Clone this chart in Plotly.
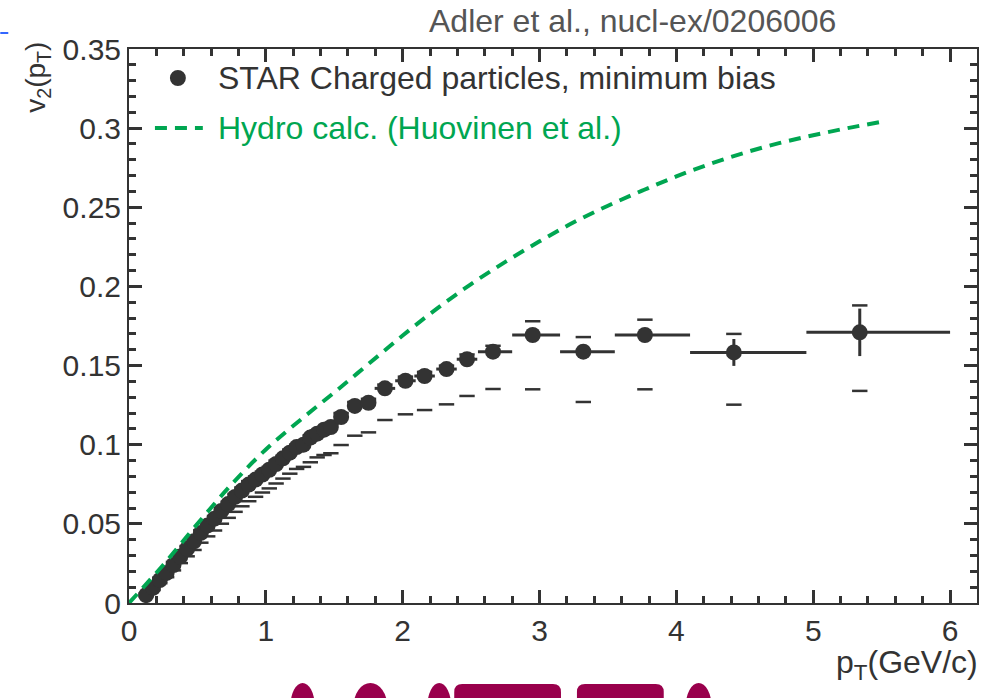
import plotly.graph_objects as go

# ---------------- data ----------------
pt = [0.125, 0.175, 0.225, 0.275, 0.325, 0.375, 0.425, 0.475, 0.525, 0.575,
      0.625, 0.675, 0.725, 0.775, 0.825, 0.875, 0.925, 0.975, 1.025, 1.075,
      1.125, 1.175, 1.225, 1.275, 1.325, 1.375, 1.425, 1.475, 1.55, 1.65,
      1.75, 1.87, 2.02, 2.16, 2.32, 2.47, 2.66, 2.95, 3.32, 3.77, 4.42, 5.34]
v2 = [0.005, 0.0095, 0.0145, 0.019, 0.024, 0.0293, 0.0343, 0.039, 0.0443, 0.049,
      0.0533, 0.0582, 0.0625, 0.067, 0.071, 0.0748, 0.078, 0.0812, 0.0842, 0.0878,
      0.0914, 0.095, 0.0985, 0.1, 0.1045, 0.107, 0.1095, 0.1112, 0.1175, 0.1245,
      0.1265, 0.1356, 0.1404, 0.1434, 0.1478, 0.154, 0.1588, 0.1693, 0.1588, 0.1693,
      0.1583, 0.171]
stat_err = [0.0005] * 31 + [0.001, 0.001, 0.001, 0.001, 0.001, 0.0015, 0.002,
                            0.003, 0.0045, 0.0085, 0.015]
pt_err_minus = [0.025] * 28 + [0.05, 0.05, 0.05, 0.075, 0.075, 0.075, 0.075, 0.075,
                               0.11, 0.15, 0.17, 0.22, 0.32, 0.39]
pt_err_plus = [0.025] * 28 + [0.05, 0.05, 0.05, 0.075, 0.075, 0.075, 0.075, 0.075,
                              0.14, 0.20, 0.23, 0.33, 0.53, 0.66]
sys_lo = [0.0043, 0.0082, 0.0125, 0.0163, 0.0206, 0.0252, 0.0295, 0.0335, 0.0381, 0.0421,
          0.0458, 0.0501, 0.0538, 0.0576, 0.0611, 0.0643, 0.0671, 0.0698, 0.0724, 0.0755,
          0.0786, 0.0817, 0.0847, 0.0860, 0.0889, 0.0920, 0.0935, 0.0946, 0.0998, 0.1057,
          0.1078, 0.1156, 0.1192, 0.1219, 0.1255, 0.1308, 0.1352, 0.135, 0.127, 0.135,
          0.1253, 0.134]
sys_hi = [0.006, 0.011, 0.016, 0.021, 0.026, 0.031, 0.036, 0.041, 0.046, 0.051,
          0.055, 0.060, 0.064, 0.069, 0.073, 0.077, 0.080, 0.083, 0.086, 0.090,
          0.093, 0.097, 0.100, 0.102, 0.106, 0.109, 0.111, 0.113, 0.120, 0.127,
          0.129, 0.138, 0.143, 0.146, 0.150, 0.157, 0.1625, 0.178, 0.168, 0.179,
          0.170, 0.188]

hydro_pt = [0, 0.25, 0.5, 0.75, 1.0, 1.25, 1.5, 1.75, 2.0, 2.25, 2.5, 2.75,
            3.0, 3.25, 3.5, 3.75, 4.0, 4.25, 4.5, 4.75, 5.0, 5.25, 5.5]
hydro_v2 = [0, 0.024, 0.05, 0.075, 0.097, 0.1155, 0.133, 0.151, 0.169, 0.186,
            0.2015, 0.2155, 0.2285, 0.2405, 0.251, 0.2605, 0.2695, 0.2775, 0.2845,
            0.2905, 0.2955, 0.300, 0.304]

legend_star = "STAR Charged particles, minimum bias"
legend_hydro = "Hydro calc. (Huovinen et al.)"
citation = "Adler et al., nucl-ex/0206006"

# ---------------- styling ----------------
W, H = 981, 698
L, R, T, B = 129, 979, 49, 603
DARK = "#333333"
GREEN = "#00A651"
MAROON = "#99004C"
FONT = "Liberation Sans, Arial, Helvetica, sans-serif"


def fx(p):
    return (p - L) / (R - L)


def fy(p):
    return (B - p) / (B - T)


fig = go.Figure()

# systematic error brackets
fig.add_trace(go.Scatter(x=pt + pt, y=sys_lo + sys_hi, mode="markers",
                         marker=dict(symbol="line-ew", size=11,
                                     line=dict(width=2.5, color=DARK)),
                         showlegend=False, hoverinfo="skip"))
# data points
fig.add_trace(go.Scatter(x=pt, y=v2, mode="markers",
                         marker=dict(size=16, color=DARK),
                         error_y=dict(type="data", array=stat_err, thickness=3,
                                      width=0, color=DARK),
                         error_x=dict(type="data", array=pt_err_plus,
                                      arrayminus=pt_err_minus, symmetric=False,
                                      thickness=3, width=0, color=DARK),
                         name=legend_star, showlegend=False))
# hydro curve
fig.add_trace(go.Scatter(x=hydro_pt, y=hydro_v2, mode="lines",
                         line=dict(color=GREEN, width=4, dash="12px,8px",
                                   shape="spline"),
                         name=legend_hydro, showlegend=False))

fig.update_xaxes(range=[0, (R - L) / 137.17], dtick=1,
                 ticks="inside", ticklen=13, tickwidth=2.5, tickcolor=DARK,
                 showline=True, linecolor=DARK, linewidth=2, mirror="ticks",
                 tickfont=dict(family=FONT, size=30, color=DARK),
                 minor=dict(ticks="inside", ticklen=7, dtick=0.2, tickwidth=2.5,
                            tickcolor=DARK))
fig.update_yaxes(range=[0, 0.35], dtick=0.05,
                 ticks="inside", ticklen=13, tickwidth=2.5, tickcolor=DARK,
                 showline=True, linecolor=DARK, linewidth=2, mirror="ticks",
                 tickfont=dict(family=FONT, size=30, color=DARK),
                 minor=dict(ticks="inside", ticklen=7, dtick=0.01, tickwidth=2.5,
                            tickcolor=DARK))

ann = []
ann.append(dict(text=citation, x=fx(428), y=fy(21), xref="paper", yref="paper",
                xanchor="left", yanchor="middle", showarrow=False,
                font=dict(family=FONT, size=32, color="#555555")))
ann.append(dict(text="v<sub>2</sub>(p<sub>T</sub>)", x=fx(37), y=fy(40),
                xref="paper", yref="paper", xanchor="center", yanchor="top",
                textangle=-90, showarrow=False,
                font=dict(family=FONT, size=28, color=DARK)))
ann.append(dict(text="p<sub>T</sub>(GeV/c)", x=fx(982), y=fy(664),
                xref="paper", yref="paper", xanchor="right", yanchor="middle",
                showarrow=False, font=dict(family=FONT, size=32, color=DARK)))
ann.append(dict(text=legend_star, x=fx(216), y=fy(78), xref="paper", yref="paper",
                xanchor="left", yanchor="middle", showarrow=False,
                font=dict(family=FONT, size=32, color=DARK)))
ann.append(dict(text=legend_hydro, x=fx(216), y=fy(128), xref="paper", yref="paper",
                xanchor="left", yanchor="middle", showarrow=False,
                font=dict(family=FONT, size=32, color=GREEN)))

shapes = []
# legend symbols
shapes.append(dict(type="circle", xref="paper", yref="paper",
                   x0=fx(170), x1=fx(186), y0=fy(70), y1=fy(86),
                   fillcolor=DARK, line=dict(width=0)))
shapes.append(dict(type="line", xref="paper", yref="paper",
                   x0=fx(155), x1=fx(203), y0=fy(128), y1=fy(128),
                   line=dict(color=GREEN, width=4, dash="12px,8px")))
# small blue line top-left
shapes.append(dict(type="line", xref="paper", yref="paper",
                   x0=fx(0), x1=fx(8), y0=fy(33), y1=fy(33),
                   line=dict(color="#3366FF", width=2)))


# maroon fragments at the bottom (tops of a large logo, mostly cut off)
def ellipse(cx, top, rx, ry):
    return dict(type="circle", xref="paper", yref="paper",
                x0=fx(cx - rx), x1=fx(cx + rx), y0=fy(top + 2 * ry), y1=fy(top),
                fillcolor=MAROON, line=dict(width=0), layer="above")


def rrect(x0, x1, top, r=8):
    b = 720
    p = (f"M{fx(x0)},{fy(b)} L{fx(x0)},{fy(top + r)} Q{fx(x0)},{fy(top)} {fx(x0 + r)},{fy(top)} "
         f"L{fx(x1 - r)},{fy(top)} Q{fx(x1)},{fy(top)} {fx(x1)},{fy(top + r)} L{fx(x1)},{fy(b)} Z")
    return dict(type="path", xref="paper", yref="paper", path=p,
                fillcolor=MAROON, line=dict(width=0), layer="above")


shapes.append(ellipse(303, 683, 12, 22))
shapes.append(ellipse(371, 683, 17, 24))
shapes.append(ellipse(440, 683, 12, 24))
shapes.append(rrect(455, 562, 684))
shapes.append(rrect(578, 665, 684))
shapes.append(ellipse(700, 683, 13, 24))

fig.update_layout(width=W, height=H, margin=dict(l=L, r=W - R, t=T, b=H - B),
                  paper_bgcolor="white", plot_bgcolor="white",
                  annotations=ann, shapes=shapes, showlegend=False,
                  font=dict(family=FONT, color=DARK))

fig.write_html("out.html")
